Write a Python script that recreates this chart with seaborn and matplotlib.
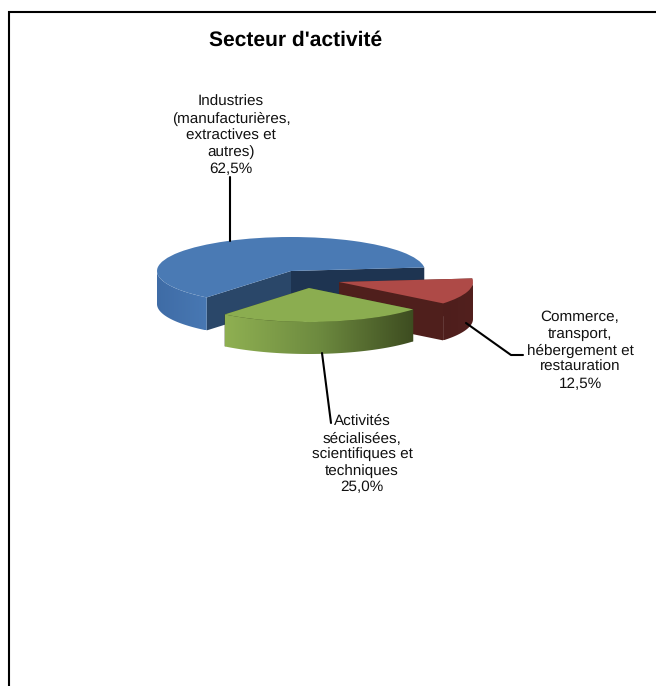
import numpy as np
import matplotlib
matplotlib.use('Agg')
import matplotlib.pyplot as plt
import seaborn as sns
from matplotlib.colors import LinearSegmentedColormap
from matplotlib.patches import Polygon

# valeurs du graphique
secteurs = ['Industries\n(manufacturières,\nextractives et\nautres)',
            'Commerce,\ntransport,\nhébergement et\nrestauration',
            'Activités\nsécialisées,\nscientifiques et\ntechniques']
parts = [62.5, 12.5, 25.0]
titre = "Secteur d'activité"

sns.set_theme(style='white')
plt.rcParams['font.family'] = ['Liberation Sans', 'DejaVu Sans']
plt.rcParams['text.hinting'] = 'no_hinting'

W, H = 656, 686
RX, RY = 134, 34      # demi-axes de l'ellipse en pixels
CX, CY = 291, 271     # centre de la part bleue


def to_fig(px, py):
    return px / W, 1 - py / H


top_cols = sns.color_palette(['#4a7ab4', '#ae4a47', '#8bad50'])
rim_cols = [['#3f6ca6', '#4878b3'], ['#4e1e1c', '#52201e'], ['#8fb052', '#6d8a3f', '#3d4c20']]
wall_cols = [['#2a4769', '#1e3451'], ['#4f1f1c', '#4f1f1c'], ['#3d4c20', '#3d4c20']]
decal = [(0, 0), (48, 11), (18, 17)]   # eclatement des parts
prof = [33, 37, 32]                    # epaisseur

fig = plt.figure(figsize=(W / 100, H / 100), dpi=100)
ax = fig.add_axes([0, 0, 1, 1])

# le camembert lui-meme, ecrase ensuite par les limites d'axes
wedges, _ = ax.pie(parts, colors=top_cols, startangle=231, counterclock=False,
                   wedgeprops={'linewidth': 0})
ax.set_aspect('auto')
ax.set_xlim(-CX / RX, (W - CX) / RX)
ax.set_ylim((CY - H) / RY, CY / RY)
ax.set_autoscale_on(False)
ax.axis('off')

# ordre de dessin : bleu, rouge, vert
for i, w in enumerate(wedges):
    cx, cy = decal[i][0] / RX, -decal[i][1] / RY
    d = prof[i] / RY
    base = 2 + 3 * i
    w.set_center((cx, cy))
    w.set_zorder(base + 2)

    # parois interieures
    for k, th in enumerate([w.theta2, w.theta1]):
        ex = cx + np.cos(np.radians(th))
        ey = cy + np.sin(np.radians(th))
        ax.fill([cx, ex, ex, cx], [cy, ey, ey - d, cy - d], color=wall_cols[i][k],
                lw=0, zorder=base)

    # bord exterieur avec son degrade, seulement la partie vue de face
    a = w.theta1 % 360
    b = a + (w.theta2 - w.theta1)
    a, b = max(a, 180), min(b, 360)
    th = np.radians(np.linspace(a, b, 120))
    x = cx + np.cos(th)
    y = cy + np.sin(th)
    contour = Polygon(np.column_stack([np.r_[x, x[::-1]], np.r_[y, y[::-1] - d]]),
                      transform=ax.transData)
    cmap = LinearSegmentedColormap.from_list('rim', rim_cols[i])
    im = ax.imshow(np.linspace(0, 1, 256)[None, :], cmap=cmap, aspect='auto',
                   extent=[x.min(), x.max(), y.min() - d, y.max()], zorder=base + 1)
    im.set_clip_path(contour)

ax.set_xlim(-CX / RX, (W - CX) / RX)
ax.set_ylim((CY - H) / RY, CY / RY)

# titre et etiquettes
fx, fy = to_fig(295.5, 40.5)
fig.text(fx, fy, titre, ha='center', va='center', fontsize=15.1, fontweight='bold', color='black')

lab_pos = [(231, 135.5), (580, 350.5), (362, 454.5)]
for s, v, (px, py) in zip(secteurs, parts, lab_pos):
    fx, fy = to_fig(px, py)
    txt = s + '\n' + f'{v:.1f}%'.replace('.', ',')
    fig.text(fx, fy, txt, ha='center', va='center', fontsize=11, color='#111111',
             linespacing=1.24, zorder=20)

# lignes de rappel
rappels = [[(230, 177), (230, 241)],
           [(466, 323), (511, 355), (523, 355)],
           [(322, 353), (331, 423)]]
for pts in rappels:
    xs, ys = zip(*[to_fig(*p) for p in pts])
    fig.add_artist(plt.Line2D(xs, ys, color='black', lw=1.5, zorder=1))

# cadre (coupe a droite et en bas)
xs, ys = zip(*[to_fig(*p) for p in [(9, H), (9, 12), (W, 12)]])
fig.add_artist(plt.Line2D(xs, ys, color='black', lw=1.5, solid_joinstyle='miter'))

fig.savefig('out.png', dpi=100, facecolor='white')
